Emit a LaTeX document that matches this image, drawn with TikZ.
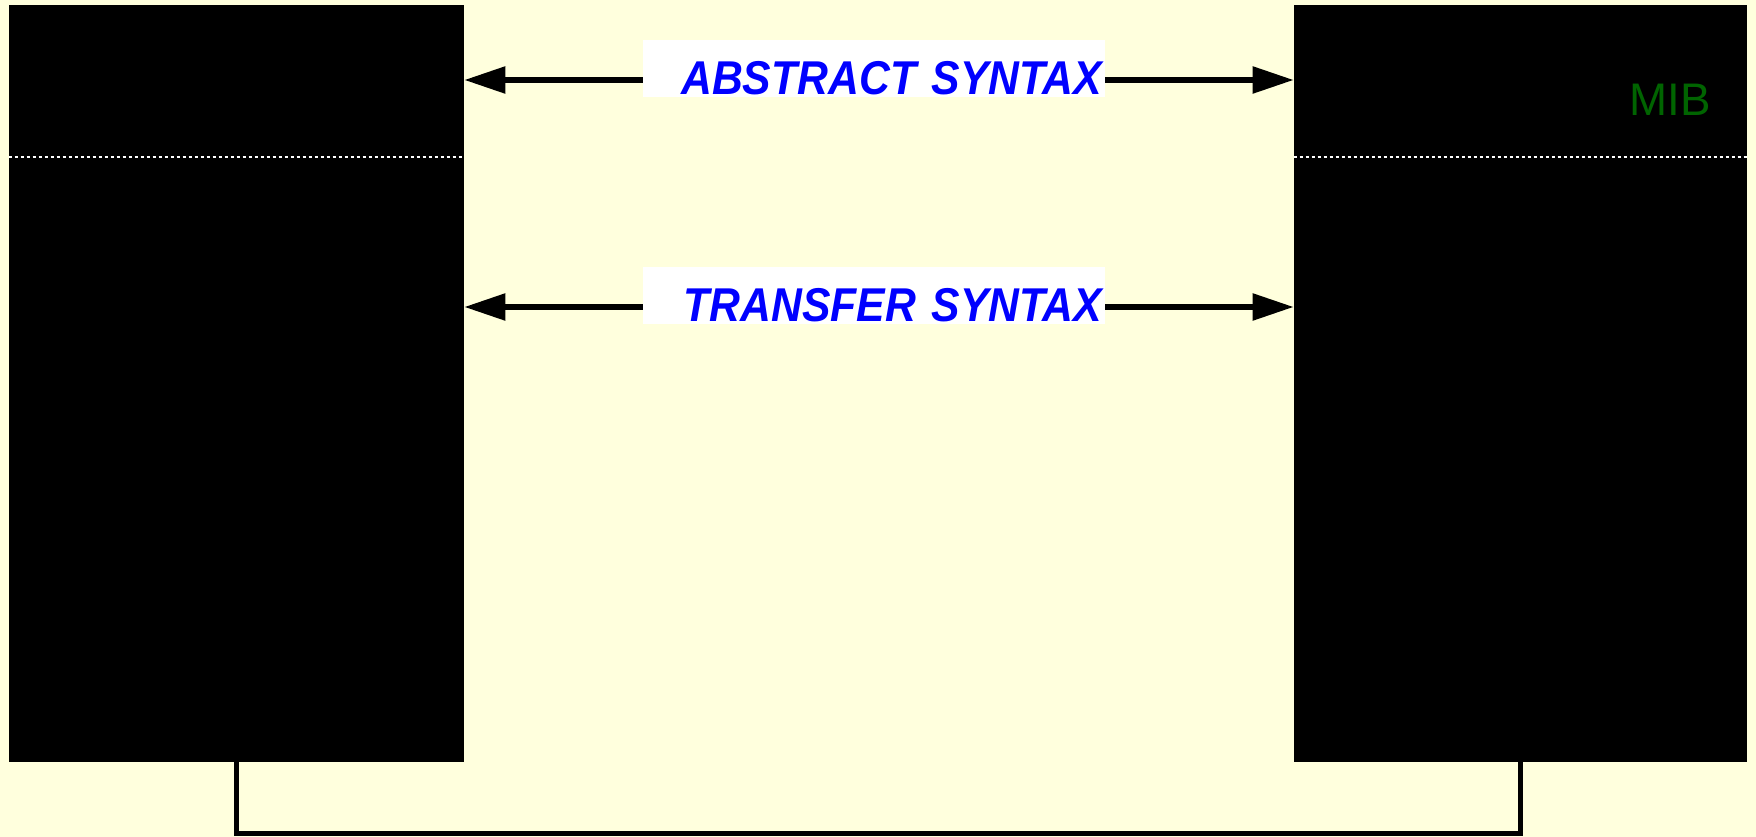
\documentclass[tikz,border=0pt]{standalone}
\usepackage{fontspec}
\setmainfont{Liberation Sans}
\newfontfamily\syntaxfont[FakeStretch = 0.9]{Liberation Sans}
\usetikzlibrary{arrows.meta}

\definecolor{paper}{RGB}{255, 255, 221}
\definecolor{mibgreen}{RGB}{0, 100, 0}

\tikzset{
  block/.style = {fill = black, inner sep = 0},
  layersep/.style = {white, line width = 0.04cm, dash pattern = on 0.06cm off 0.06cm},
  syntaxbox/.style = {fill = white, text = blue, inner xsep = 0.06cm, inner ysep = 0,
    text width = 9.12cm, align = right, text height = 1.10cm, text depth = 0.04cm,
    anchor = base, font = \syntaxfont\bfseries\itshape\fontsize{27}{32}\selectfont},
  link/.style = {line width = 0.11cm, -{Triangle[length = 0.82cm, width = 0.52cm]}},
  wire/.style = {line width = 0.1cm}
}

\begin{document}
\begin{tikzpicture}
  \fill[paper] (0, 0) rectangle (35.12cm, 16.74cm);

  \node[block, minimum width = 9.10cm, minimum height = 15.14cm] (left) at
  (4.73cm, 9.07cm) {};
  \node[block, minimum width = 9.06cm, minimum height = 15.14cm] (right) at
  (30.41cm, 9.07cm) {};

  \draw[layersep] (left.west |- 0, 13.6cm) -- (left.east |- 0, 13.6cm);
  \draw[layersep] (right.west |- 0, 13.6cm) -- (right.east |- 0, 13.6cm);

  \node[anchor = base east, text = mibgreen, inner sep = 0,
  font = \fontsize{26}{31}\selectfont] (mib) at (34.22cm, 14.42cm) {MIB};

  \node[syntaxbox] (abstract) at (17.48cm, 14.84cm) {ABSTRACT SYNTAX};
  \node[syntaxbox] (transfer) at (17.48cm, 10.30cm) {TRANSFER SYNTAX};

  % arrows sit 0.3cm above the text baseline
  \coordinate (abstract w) at ([yshift = 0.3cm] abstract.base west);
  \coordinate (abstract e) at ([yshift = 0.3cm] abstract.base east);
  \coordinate (transfer w) at ([yshift = 0.3cm] transfer.base west);
  \coordinate (transfer e) at ([yshift = 0.3cm] transfer.base east);

  \draw[link] (abstract w) -- (abstract w -| left.east);
  \draw[link] (abstract e) -- (abstract e -| right.west);
  \draw[link] (transfer w) -- (transfer w -| left.east);
  \draw[link] (transfer e) -- (transfer e -| right.west);

  \draw[wire] (left.south) -- ++(0, -1.42cm) -| (right.south);
\end{tikzpicture}
\end{document}
